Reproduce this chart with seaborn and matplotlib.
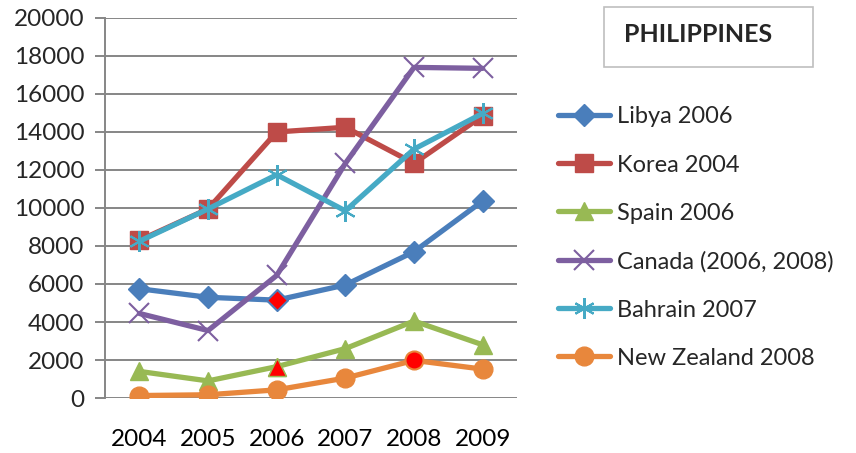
import pandas as pd
import matplotlib
matplotlib.use("Agg")
import matplotlib.pyplot as plt
from matplotlib.patches import Rectangle
import seaborn as sns

years = [2004, 2005, 2006, 2007, 2008, 2009]

libya = [5750, 5300, 5150, 5950, 7700, 10370]
korea = [8300, 9950, 14000, 14250, 12350, 14850]
spain = [1400, 900, 1650, 2600, 4050, 2800]
canada = [4450, 3550, 6450, 12350, 17400, 17350]
bahrain = [8250, 9950, 11750, 9850, 13100, 14980]
new_zealand = [130, 170, 430, 1050, 1980, 1520]

series_names = ["Libya 2006", "Korea 2004", "Spain 2006",
                "Canada (2006, 2008)", "Bahrain 2007", "New Zealand 2008"]
series_values = [libya, korea, spain, canada, bahrain, new_zealand]

# points that are highlighted in red in the original
highlights = [("Libya 2006", 2006), ("Spain 2006", 2006), ("New Zealand 2008", 2008)]

colors = {
    "Libya 2006": "#4A7EBB",
    "Korea 2004": "#BE4B48",
    "Spain 2006": "#98B954",
    "Canada (2006, 2008)": "#7D5FA0",
    "Bahrain 2007": "#46AAC5",
    "New Zealand 2008": "#E8873C",
}
markers = {
    "Libya 2006": "D",
    "Korea 2004": "s",
    "Spain 2006": "^",
    "Canada (2006, 2008)": "x",
    "Bahrain 2007": (6, 2, 0),
    "New Zealand 2008": "o",
}
msizes = {"D": 11.5, "s": 13.5, "^": 13.5, "x": 15, "o": 13.5}

df = pd.DataFrame({
    "year": years * len(series_names),
    "value": [v for vals in series_values for v in vals],
    "series": [n for n in series_names for _ in years],
})

sns.set_style("white")
plt.rcParams["font.family"] = ["Lato", "DejaVu Sans"]

fig = plt.figure(figsize=(8.56, 4.53), dpi=100)
ax = fig.add_axes([0.1227, 0.1214, 0.4813, 0.8389])

grid_color = "#868686"
ax.set_ylim(0, 20000)
ax.set_xlim(2003.5, 2009.5)
ax.set_yticks(range(0, 20001, 2000))
ax.yaxis.grid(True, color=grid_color, lw=1.4, zorder=0)
ax.set_axisbelow(True)

for name in series_names:
    m = markers[name]
    sub = df[df["series"] == name]
    sns.lineplot(data=sub, x="year", y="value", ax=ax, color=colors[name],
                 lw=3.8, marker=m, label=name,
                 markersize=msizes.get(m, 15),
                 markeredgecolor=colors[name],
                 markeredgewidth=1.5 if m in ("x",) or isinstance(m, tuple) else 1,
                 zorder=3)

hl = pd.DataFrame(highlights, columns=["series", "year"])
hl = hl.merge(df, on=["series", "year"])
for _, r in hl.iterrows():
    ax.plot(r["year"], r["value"], marker=markers[r["series"]], color="red",
            markersize=msizes[markers[r["series"]]] - 1,
            markeredgecolor=colors[r["series"]], markeredgewidth=1, zorder=4)

ax.set_xticks(years)
ax.set_xticks([y - 0.5 for y in years] + [years[-1] + 0.5], minor=True)
ax.tick_params(axis="x", which="major", length=0, pad=22, labelsize=17.5, colors="black")
ax.tick_params(axis="x", which="minor", length=7, width=1.4, color=grid_color, direction="out")
ax.tick_params(axis="y", length=7, width=1.4, color=grid_color, pad=8, labelsize=17.5, left=True)
ax.set_xlabel("")
ax.set_ylabel("")
for s in ["top", "right", "bottom"]:
    ax.spines[s].set_visible(False)
ax.spines["left"].set_color(grid_color)
ax.spines["left"].set_linewidth(1.4)

leg = ax.legend(loc="upper left", bbox_to_anchor=(0.652, 0.765), bbox_transform=fig.transFigure,
                frameon=False, fontsize=17, handlelength=2.2, handletextpad=0.3,
                labelspacing=1.15, borderaxespad=0, borderpad=0)

fig.patches.append(Rectangle((604 / 856, 1 - 67 / 453), 209 / 856, 60 / 453,
                             transform=fig.transFigure, fill=False,
                             edgecolor="#BFBFBF", lw=1.2))
fig.text(624 / 856, 1 - 35 / 453, "PHILIPPINES", fontsize=18, fontweight="bold",
         va="center", ha="left")

fig.savefig("out.png", dpi=100)
